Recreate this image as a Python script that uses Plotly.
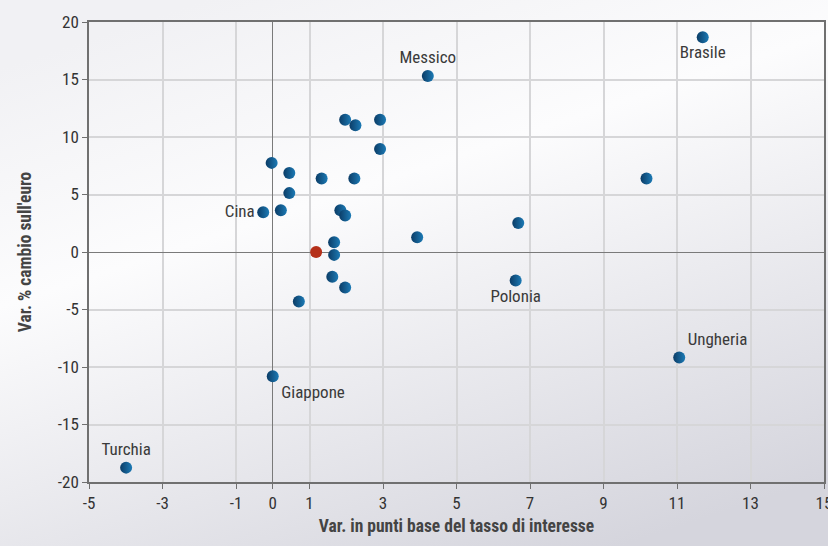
import base64
import plotly.graph_objects as go

# ---- data ----
x_vals = [11.70, 4.22, 1.97, 2.25, 2.92, 2.92, -0.03, 0.45, 1.33, 2.22, 10.17, 0.45,
          -0.26, 0.22, 1.84, 1.97, 6.68, 3.93, 1.67, 1.67, 1.62, 1.97, 0.71,
          6.61, 11.06, 0.00, -3.99]
y_vals = [18.68, 15.31, 11.50, 11.03, 11.50, 8.96, 7.75, 6.86, 6.40, 6.40, 6.40, 5.12,
          3.45, 3.64, 3.64, 3.18, 2.53, 1.29, 0.85, -0.25, -2.15, -3.09, -4.31,
          -2.48, -9.18, -10.81, -18.75]
labels = ["Brasile", "Messico", "", "", "", "", "", "", "", "", "", "",
          "Cina", "", "", "", "", "", "", "", "", "", "",
          "Polonia", "Ungheria", "Giappone", "Turchia"]
label_pos = ["bottom center", "top center", "top center", "top center", "top center",
             "top center", "top center", "top center", "top center", "top center",
             "top center", "top center", "middle left", "top center", "top center",
             "top center", "top center", "top center", "top center", "top center",
             "top center", "top center", "top center", "bottom center", "top right",
             "bottom right", "top center"]
euro_x = [1.18]
euro_y = [0.0]

x_ticks = [-5, -3, -1, 0, 1, 3, 5, 7, 9, 11, 13, 15]
x_ticklabels = ["-5", "-3", "-1", "0", "1", "3", "5", "7", "9", "11", "13", "15"]
y_ticks = [-20, -15, -10, -5, 0, 5, 10, 15, 20]
y_ticklabels = ["-20", "-15", "-10", "-5", "0", "5", "10", "15", "20"]

x_title = "Var. in punti base del tasso di interesse"
y_title = "Var. % cambio sull'euro"

FONT = "Roboto Condensed, Liberation Sans Narrow, DejaVu Sans Condensed, Roboto, sans-serif"

# background gradient as an inline svg
svg = """<svg xmlns='http://www.w3.org/2000/svg' width='828' height='546' preserveAspectRatio='none'>
<defs><linearGradient id='g' x1='0.25' y1='0' x2='0.75' y2='1'>
<stop offset='0' stop-color='#f1f1f4'/>
<stop offset='0.35' stop-color='#fcfcfd'/>
<stop offset='1' stop-color='#d5d5dd'/>
</linearGradient></defs>
<rect width='828' height='546' fill='url(#g)'/></svg>"""
bg_src = "data:image/svg+xml;base64," + base64.b64encode(svg.encode()).decode()

W, H = 828, 546
ml, mr, mt, mb = 89, 4, 22, 64
pw, ph = W - ml - mr, H - mt - mb

fig = go.Figure()
fig.add_trace(go.Scatter(
    x=x_vals, y=y_vals, mode="markers+text", text=labels, textposition=label_pos,
    textfont=dict(family=FONT, size=17, color="#3a3a3a"),
    marker=dict(size=12, color="#0b3c66",
                gradient=dict(type="horizontal", color="#1c7ab5"),
                line=dict(width=0)),
    cliponaxis=False, showlegend=False, hoverinfo="x+y+text"))
fig.add_trace(go.Scatter(
    x=euro_x, y=euro_y, mode="markers",
    marker=dict(size=12, color="#b5301a", line=dict(width=0)),
    cliponaxis=False, showlegend=False))

fig.update_layout(
    width=W, height=H,
    margin=dict(l=ml, r=mr, t=mt, b=mb, autoexpand=False),
    paper_bgcolor="#f2f2f5", plot_bgcolor="rgba(0,0,0,0)",
    font=dict(family=FONT, color="#333333"),
    images=[dict(source=bg_src, xref="paper", yref="paper",
                 x=-ml / pw, y=1 + mt / ph, sizex=W / pw, sizey=H / ph,
                 sizing="stretch", xanchor="left", yanchor="top", layer="below")],
)
axis_common = dict(
    automargin=False,
    showgrid=True, gridcolor="#d6d6d8", gridwidth=1.5,
    zeroline=True, zerolinecolor="#7a7a7a", zerolinewidth=1.2,
    showline=True, linecolor="#707070", linewidth=1.5, mirror=True,
    ticks="outside", ticklen=5, tickcolor="#707070", tickwidth=1.2,
    tickfont=dict(family=FONT, size=17, color="#333333"),
    ticklabeloverflow="allow",
)
fig.update_xaxes(
    range=[-5, 15], tickvals=x_ticks, ticktext=x_ticklabels, **axis_common,
    title=dict(text="<b>" + x_title + "</b>", font=dict(family=FONT, size=17.5, color="#444444"),
               standoff=8),
)
fig.update_yaxes(
    range=[-20, 20], tickvals=y_ticks, ticktext=y_ticklabels, **axis_common,
    title=dict(text="<b>" + y_title + "</b>", font=dict(family=FONT, size=17.5, color="#444444"),
               standoff=22),
)

fig.write_html("out.html", config={"displayModeBar": False},
               post_script="document.body.style.margin='0';document.body.style.overflow='hidden';")
